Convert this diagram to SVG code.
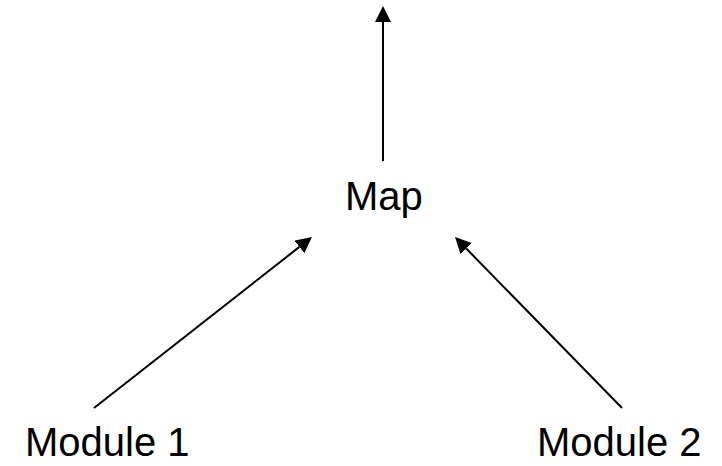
<svg xmlns="http://www.w3.org/2000/svg" width="722" height="466" viewBox="0 0 722 466">
  <style>
    .label { font-family: "Liberation Sans", Arial, sans-serif; font-size: 40px; fill: #000; }
    .edge { stroke: #000; stroke-width: 2; fill: none; marker-end: url(#head); }
  </style>
  <defs>
    <marker id="head" markerUnits="userSpaceOnUse" markerWidth="16" markerHeight="16" refX="0" refY="8" orient="auto">
      <path d="M0,0 L16,8 L0,16 Z" fill="#000"/>
    </marker>
  </defs>
  <rect width="722" height="466" fill="#fff"/>
  <g id="connectors">
    <line class="edge" x1="383" y1="161" x2="383" y2="22"/>
    <line class="edge" x1="94" y1="408" x2="299.4" y2="246.9"/>
    <line class="edge" x1="622" y1="408" x2="466.2" y2="248.5"/>
  </g>
  <g id="map">
    <text class="label" x="345" y="210">Map</text>
  </g>
  <g id="module1">
    <text class="label" x="25" y="456">Module 1</text>
  </g>
  <g id="module2">
    <text class="label" x="537" y="456">Module 2</text>
  </g>
</svg>
